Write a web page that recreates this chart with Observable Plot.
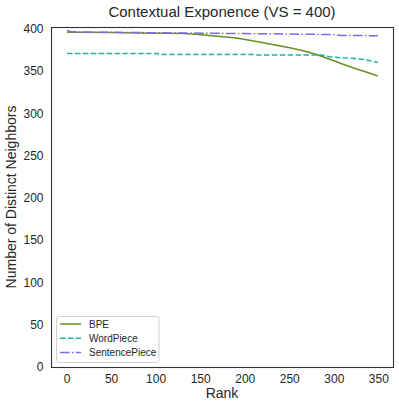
<!DOCTYPE html>
<html>
<head>
<meta charset="utf-8">
<script src="https://cdn.jsdelivr.net/npm/d3@7"></script>
<script src="https://cdn.jsdelivr.net/npm/@observablehq/plot@0.6"></script>
<style>
  html, body { margin: 0; padding: 0; background: #fff; }
  svg { display: block; }
</style>
</head>
<body>
<div id="chart"></div>
<script>
const title = "Contextual Exponence (VS = 400)";
const xLabel = "Rank";
const yLabel = "Number of Distinct Neighbors";
const xTicks = [0, 50, 100, 150, 200, 250, 300, 350];
const yTicks = [0, 50, 100, 150, 200, 250, 300, 350, 400];

const seriesNames = ["BPE", "WordPiece", "SentencePiece"];
const seriesColors = ["#6b8e23", "#20b2aa", "#7b68ee"];
const seriesDash = [null, "5.5,2.4", "9.6,2.4,1.5,2.4"];

const bpeRank = [0, 20, 50, 80, 110, 130, 145, 160, 175, 190, 205, 220, 235, 250, 265, 280, 295, 310, 325, 340, 349];
const bpeValue = [396.5, 396.3, 396, 395.6, 395.3, 395, 394, 392.5, 391, 389.5, 387, 384, 381, 378, 374.5, 370, 364.5, 358.5, 353, 348, 344.5];

const wpRank = [0, 102, 103, 212, 213, 285, 295, 305, 320, 335, 349];
const wpValue = [371.3, 371.3, 370.2, 370.2, 369.5, 369.5, 367.5, 366.5, 365.5, 364, 360.5];

const spRank = [0, 4, 30, 100, 200, 250, 300, 308, 349];
const spValue = [398.5, 397, 396.5, 395.8, 394.8, 394.3, 393.6, 392.6, 392.3];

const toRows = (name, ranks, vals) => ranks.map((r, i) => ({series: name, rank: r, value: vals[i]}));
const rows = [
  toRows("BPE", bpeRank, bpeValue),
  toRows("WordPiece", wpRank, wpValue),
  toRows("SentencePiece", spRank, spValue)
];

const W = 399, H = 409;
const mL = 51, mR = 6, mT = 27, mB = 42;
const font = "'Liberation Sans', Arial, sans-serif";
const textColor = "#262626";

const svg = Plot.plot({
  width: W,
  height: H,
  marginLeft: mL,
  marginRight: mR,
  marginTop: mT,
  marginBottom: mB,
  style: {fontFamily: font, fontSize: "12px", color: textColor, background: "#fff"},
  x: {domain: [-17.45, 366.45]},
  y: {domain: [0, 402]},
  marks: [
    Plot.axisX({ticks: xTicks, tickSize: 0, tickPadding: 7, label: null, fontSize: 12}),
    Plot.axisY({ticks: yTicks, tickSize: 0, tickPadding: 8, label: null, fontSize: 12}),
    ...rows.map((data, i) => Plot.line(data, {
      x: "rank", y: "value",
      stroke: seriesColors[i],
      strokeWidth: 1.5,
      strokeDasharray: seriesDash[i] || undefined,
      strokeLinecap: "butt"
    })),
    Plot.frame({stroke: "#333", strokeWidth: 1.1})
  ]
});

const s = d3.select(svg);
s.append("text")
  .attr("x", mL + (W - mL - mR) / 2).attr("y", 17)
  .attr("text-anchor", "middle")
  .attr("font-size", 15).attr("fill", textColor).attr("font-family", font)
  .text(title);
s.append("text")
  .attr("x", mL + (W - mL - mR) / 2).attr("y", 398)
  .attr("text-anchor", "middle")
  .attr("font-size", 14).attr("fill", textColor).attr("font-family", font)
  .text(xLabel);
s.append("text")
  .attr("transform", `translate(16,${mT + (H - mT - mB) / 2}) rotate(-90)`)
  .attr("text-anchor", "middle")
  .attr("font-size", 14).attr("fill", textColor).attr("font-family", font)
  .text(yLabel);

// legend
const lg = s.append("g").attr("font-family", font).attr("font-size", 10).attr("text-anchor", "start");
lg.append("rect")
  .attr("x", 56.5).attr("y", 316.5).attr("width", 102.5).attr("height", 46)
  .attr("rx", 2.5).attr("fill", "#fff").attr("fill-opacity", 0.8)
  .attr("stroke", "#d0d0d0").attr("stroke-width", 1);
seriesNames.forEach((name, i) => {
  const y = 324 + i * 14.3;
  lg.append("line")
    .attr("x1", 60).attr("x2", 81).attr("y1", y).attr("y2", y)
    .attr("stroke", seriesColors[i]).attr("stroke-width", 1.5)
    .attr("stroke-dasharray", seriesDash[i]);
  lg.append("text")
    .attr("x", 89).attr("y", y).attr("dy", "0.35em")
    .attr("text-anchor", "start")
    .attr("fill", textColor)
    .text(name);
});

document.getElementById("chart").appendChild(svg);
</script>
</body>
</html>
